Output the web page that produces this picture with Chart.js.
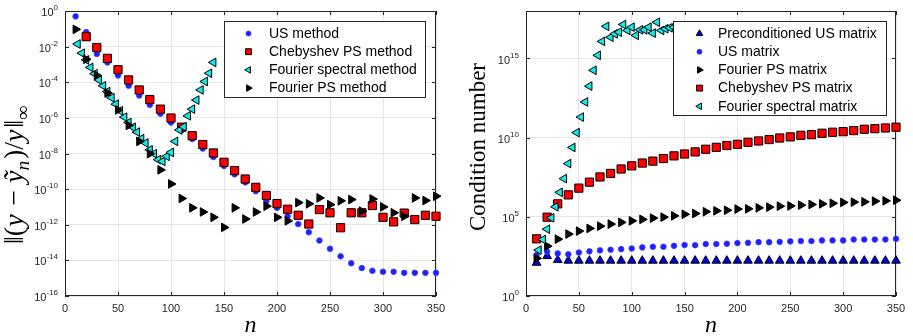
<!DOCTYPE html>
<html>
<head>
<meta charset="utf-8">
<script src="https://cdn.jsdelivr.net/npm/chart.js@4.4.1/dist/chart.umd.min.js"></script>
<style>
  html, body { margin: 0; padding: 0; background: #ffffff; }
  #wrap { position: relative; width: 913px; height: 336px; overflow: hidden; }
  canvas { position: absolute; top: 0; }
  #errChart { left: 0; }
  #condChart { left: 456px; }
</style>
</head>
<body>
<div id="wrap">
  <canvas id="errChart" width="456" height="336" style="width:456px;height:336px"></canvas>
  <canvas id="condChart" width="457" height="336" style="width:457px;height:336px"></canvas>
</div>
<script>
// ---------- data ----------
const nValues = [10, 20, 30, 40, 50, 60, 70, 80, 90, 100, 110, 120, 130, 140, 150, 160, 170, 180,
                 190, 200, 210, 220, 230, 240, 250, 260, 270, 280, 290, 300, 310, 320, 330, 340, 350];
const nFourierSpectral = [12, 16, 20, 24, 28, 32, 36, 40, 44, 48, 52, 56, 60, 64, 68, 72, 76, 80,
                          84, 88, 92, 96, 100, 104, 108, 112, 116, 120, 124, 128, 132, 136, 140];

// relative error (left panel)
const errUSMethod = [5.0e-1, 6.5e-2, 3.9e-3, 1.3e-3, 2.4e-4, 6.3e-5, 1.8e-5, 5.4e-6, 1.7e-6, 5.5e-7,
  2.0e-7, 6.5e-8, 1.9e-8, 6.3e-9, 2.0e-9, 6.8e-10, 2.4e-10, 7.6e-11, 2.1e-11, 8.9e-12,
  3.0e-12, 1.1e-12, 3.8e-13, 1.3e-13, 4.5e-14, 1.7e-14, 6.9e-15, 3.7e-15, 2.6e-15, 2.3e-15,
  2.3e-15, 2.0e-15, 2.0e-15, 2.0e-15, 2.0e-15];
const errChebyshevPS = [null, 3.6e-2, 8.9e-3, 2.2e-3, 5.1e-4, 1.35e-4, 3.7e-5, 1.07e-5, 3.1e-6, 9.8e-7,
  3.0e-7, 1.0e-7, 3.2e-8, 1.07e-8, 3.2e-9, 1.1e-9, 3.7e-10, 1.26e-10, 4.4e-11, 1.55e-11,
  7.4e-12, 3.4e-12, 1.1e-12, 7.1e-12, 4.7e-12, 6.8e-13, 4.7e-12, 4.7e-12, 1.2e-11, 2.6e-12,
  1.45e-12, 4.5e-12, 1.95e-12, 3.4e-12, 3.0e-12];
const errFourierSpectral = [1.4e-2, 4.3e-3, 1.8e-3, 6.8e-4, 3.0e-4, 1.35e-4, 6.3e-5, 3.0e-5, 1.35e-5,
  5.9e-6, 2.5e-6, 1.1e-6, 5.5e-7, 3.0e-7, 1.6e-7, 6.8e-8, 3.9e-8, 1.6e-8, 9.8e-9, 4.5e-9,
  3.6e-9, 6.9e-9, 1.15e-8, 4.8e-8, 2.1e-7, 3.2e-7, 1.3e-6, 3.1e-6, 1.0e-5, 3.7e-5,
  1.1e-4, 3.2e-4, 1.3e-3];
const errFourierPS = [9.3e-2, 1.95e-3, 2.4e-4, 2.5e-5, 2.8e-6, 3.8e-7, 4.8e-8, 9.8e-9, 1.2e-9, 1.95e-10,
  3.0e-11, 8.9e-12, 5.2e-12, 2.6e-12, 7.1e-13, 8.9e-12, 2.1e-12, 5.2e-12, 1.1e-11, 2.6e-12,
  1.65e-12, 1.75e-11, 1.5e-11, 3.2e-11, 1.35e-11, 2.2e-11, 2.6e-11, 5.8e-12, 2.8e-11, 1.0e-11,
  4.7e-12, 3.0e-12, 3.2e-11, 2.3e-11, 4.0e-11];

// condition numbers (right panel)
const condPrecondUS = [126, 330, 186, 170, 170, 170, 170, 170, 170, 170, 170, 170, 170, 170, 170, 170,
  170, 170, 170, 170, 170, 170, 170, 170, 170, 170, 170, 170, 170, 170, 170, 170, 170, 170, 170];
const condUS = [390, 620, 490, 430, 560, 660, 760, 830, 910, 1000, 1170, 1290, 1290, 1480, 1660, 1620,
  1900, 1900, 2000, 2190, 2290, 2510, 2510, 2630, 2820, 2950, 2950, 3240, 3240, 3240, 3720, 3720,
  3720, 3720, 4070];
const condFourierPS = [240, 1410, 3890, 8130, 1.26e4, 1.86e4, 2.57e4, 3.47e4, 4.47e4, 5.6e4, 6.9e4, 8.3e4,
  9.5e4, 1.15e5, 1.45e5, 1.62e5, 2.1e5, 2.4e5, 2.6e5, 3.1e5, 3.2e5, 3.7e5, 4.1e5, 4.7e5, 4.9e5,
  5.5e5, 6.0e5, 6.6e5, 7.2e5, 8.1e5, 8.5e5, 8.9e5, 9.8e5, 1.02e6, 1.12e6];
const condChebyshevPS = [4070, 9.5e4, 6.6e5, 2.45e6, 6.5e6, 1.55e7, 3.3e7, 5.5e7, 1.05e8, 1.66e8, 2.5e8,
  3.3e8, 4.8e8, 7.1e8, 9.3e8, 1.26e9, 1.86e9, 2.45e9, 3.2e9, 3.8e9, 5.1e9, 6.2e9, 7.6e9, 9.5e9,
  1.12e10, 1.41e10, 1.55e10, 1.9e10, 2.2e10, 2.4e10, 2.8e10, 3.4e10, 3.7e10, 4.1e10, 4.6e10];
const condFourierSpectral = [7.9e2, 3.7e3, 1.66e4, 8.7e4, 4.3e5, 3.5e6, 2.6e7, 2.3e8, 2.4e9, 2.1e10,
  2.0e11, 1.8e12, 1.8e13, 1.8e14, 1.6e15, 1.2e16, 1.07e17, 2.2e16, 3.6e16, 4.6e16, 1.4e17, 5.9e16,
  9.5e16, 2.9e16, 6.5e16, 6.5e16, 9.5e16, 4.0e16, 1.95e17, 5.9e16, 7.6e16, 8.7e16, 9.5e16];

// axis ticks
const xTicks = [0, 50, 100, 150, 200, 250, 300, 350];
const errTickExponents = [-16, -14, -12, -10, -8, -6, -4, -2, 0];
const condTickExponents = [0, 5, 10, 15];

// ---------- styling helpers ----------
const SANS = '"Liberation Sans", Arial, Helvetica, sans-serif';
const SERIF = '"Liberation Serif", "Times New Roman", "DejaVu Serif", serif';
const INK = '#262626';
const GRID = '#e5e5e5';

const STYLES = {
  usDot:      { pointStyle: 'circle',   rotation: 0,   radius: 2.8, fill: '#1f1fff', stroke: '#3a3aff', lw: 0.8 },
  chebSquare: { pointStyle: 'rect',     rotation: 0,   radius: 5.8, fill: '#ff0000', stroke: '#000000', lw: 1 },
  fsLeft:     { pointStyle: 'triangle', rotation: 270, radius: 5.0, fill: '#10eaea', stroke: '#000000', lw: 1 },
  fpsRight:   { pointStyle: 'triangle', rotation: 90,  radius: 5.0, fill: '#000000', stroke: '#000000', lw: 1 },
  precondUp:  { pointStyle: 'triangle', rotation: 0,   radius: 5.0, fill: '#0000e0', stroke: '#000000', lw: 1 }
};

function toPoints(xs, ys) {
  const pts = [];
  xs.forEach((x, i) => { if (ys[i] !== null && ys[i] !== undefined) pts.push({ x: x, y: ys[i] }); });
  return pts;
}

function makeDataset(label, xs, ys, st, order) {
  return {
    label: label,
    data: toPoints(xs, ys),
    showLine: false,
    clip: false,
    order: order,
    pointStyle: st.pointStyle,
    rotation: st.rotation,
    pointRadius: st.radius,
    pointHoverRadius: st.radius,
    pointBackgroundColor: st.fill,
    pointBorderColor: st.stroke,
    pointBorderWidth: st.lw
  };
}

// small marker used in the legend boxes
function legendMarker(ctx, st, x, y, scale) {
  const r = st.radius * scale;
  ctx.save();
  ctx.fillStyle = st.fill;
  ctx.strokeStyle = st.stroke;
  ctx.lineWidth = st.lw;
  ctx.beginPath();
  if (st.pointStyle === 'circle') {
    ctx.arc(x, y, r, 0, Math.PI * 2);
  } else if (st.pointStyle === 'rect') {
    const h = r * Math.SQRT1_2;
    ctx.rect(x - h, y - h, 2 * h, 2 * h);
  } else {
    let a = st.rotation * Math.PI / 180;
    ctx.moveTo(x + Math.sin(a) * r, y - Math.cos(a) * r);
    a += 2 * Math.PI / 3;
    ctx.lineTo(x + Math.sin(a) * r, y - Math.cos(a) * r);
    a += 2 * Math.PI / 3;
    ctx.lineTo(x + Math.sin(a) * r, y - Math.cos(a) * r);
    ctx.closePath();
  }
  ctx.fill();
  ctx.stroke();
  ctx.restore();
}

// rotated axis title made of styled pieces (upright / italic / sub-scripted)
function drawRotatedPieces(ctx, baseX, centerY, pieces, size) {
  ctx.save();
  ctx.translate(baseX, centerY);
  ctx.rotate(-Math.PI / 2);
  ctx.fillStyle = '#000000';
  ctx.textBaseline = 'alphabetic';
  ctx.textAlign = 'left';
  const fontOf = p => (p.it ? 'italic ' : '') + (size * (p.s || 1)).toFixed(1) + 'px ' + SERIF;
  const widths = pieces.map(p => { ctx.font = fontOf(p); return ctx.measureText(p.t).width + (p.gap || 0) * size; });
  const total = widths.reduce((a, b) => a + b, 0);
  let x = -total / 2;
  pieces.forEach((p, i) => {
    ctx.font = fontOf(p);
    ctx.fillText(p.t, x, (p.dy || 0) * size);
    x += widths[i];
  });
  ctx.restore();
}

// frame, inward ticks, tick labels, axis titles and legend for one panel
function panelPlugin(cfg) {
  return {
    id: 'panel_' + cfg.name,
    beforeDatasetsDraw(chart) {
      const ctx = chart.ctx;
      const a = chart.chartArea;
      const xs = chart.scales.x, ys = chart.scales.y;
      ctx.save();
      ctx.strokeStyle = INK;
      ctx.lineWidth = 1;
      ctx.strokeRect(Math.round(a.left) + 0.5, Math.round(a.top) + 0.5,
                     Math.round(a.right - a.left) - 1, Math.round(a.bottom - a.top) - 1);
      ctx.beginPath();
      xTicks.forEach(v => {
        const px = Math.round(xs.getPixelForValue(v)) + 0.5;
        ctx.moveTo(px, a.bottom); ctx.lineTo(px, a.bottom - 4);
        ctx.moveTo(px, a.top); ctx.lineTo(px, a.top + 4);
      });
      cfg.yExps.forEach(e => {
        const py = Math.round(ys.getPixelForValue(Math.pow(10, e))) + 0.5;
        ctx.moveTo(a.left, py); ctx.lineTo(a.left + 4, py);
        ctx.moveTo(a.right, py); ctx.lineTo(a.right - 4, py);
      });
      ctx.stroke();

      // x tick labels
      ctx.fillStyle = INK;
      ctx.font = '11px ' + SANS;
      ctx.textAlign = 'center';
      ctx.textBaseline = 'middle';
      xTicks.forEach(v => ctx.fillText(String(v), xs.getPixelForValue(v), a.bottom + 12.5));

      // y tick labels: 10 with a raised exponent
      cfg.yExps.forEach(e => {
        const py = ys.getPixelForValue(Math.pow(10, e));
        const sup = e < 0 ? '-' + String(-e) : String(e);
        ctx.font = '8px ' + SANS;
        const wSup = ctx.measureText(sup).width;
        ctx.font = '11px ' + SANS;
        const wTen = ctx.measureText('10').width;
        const right = a.left - 7;
        ctx.textAlign = 'left';
        ctx.textBaseline = 'alphabetic';
        ctx.fillText('10', right - wSup - wTen, py + 5);
        ctx.font = '8px ' + SANS;
        ctx.fillText(sup, right - wSup, py - 1);
      });

      // x title
      ctx.fillStyle = '#000000';
      ctx.font = 'italic 24px ' + SERIF;
      ctx.textAlign = 'center';
      ctx.textBaseline = 'alphabetic';
      ctx.fillText('n', (a.left + a.right) / 2, 332);
      ctx.restore();

      cfg.drawYTitle(ctx, chart);
    },
    afterDraw(chart) {
      const ctx = chart.ctx;
      const L = cfg.legend;
      ctx.save();
      ctx.fillStyle = '#ffffff';
      ctx.fillRect(L.x, L.y, L.w, L.h);
      ctx.strokeStyle = INK;
      ctx.lineWidth = 1;
      ctx.strokeRect(L.x + 0.5, L.y + 0.5, L.w - 1, L.h - 1);
      ctx.font = '14px ' + SANS;
      ctx.fillStyle = '#000000';
      ctx.textAlign = 'left';
      ctx.textBaseline = 'middle';
      L.items.forEach((it, i) => {
        const cy = L.firstY + i * L.step;
        legendMarker(ctx, it.style, L.markerX, cy, it.scale);
        ctx.fillText(it.label, L.textX, cy + 0.5);
      });
      ctx.restore();
    }
  };
}

function baseOptions(yMin, yMax, yExps, rightPad) {
  return {
    responsive: false,
    animation: false,
    events: [],
    devicePixelRatio: 1,
    layout: { padding: { left: 0, right: rightPad, top: 11, bottom: 0 } },
    plugins: { legend: { display: false }, tooltip: { enabled: false } },
    scales: {
      x: {
        type: 'linear', min: 0, max: 350,
        afterBuildTicks: s => { s.ticks = xTicks.map(v => ({ value: v })); },
        ticks: { display: false },
        grid: { color: GRID, drawTicks: false, lineWidth: 1 },
        border: { display: false },
        afterFit: s => { s.height = 40; }
      },
      y: {
        type: 'logarithmic', min: yMin, max: yMax,
        afterBuildTicks: s => { s.ticks = yExps.map(e => ({ value: Math.pow(10, e) })); },
        ticks: { display: false },
        grid: { color: GRID, drawTicks: false, lineWidth: 1 },
        border: { display: false },
        afterFit: s => { s.width = s.chart.canvas.id === 'errChart' ? 65 : 70; }
      }
    }
  };
}

// ---------- left panel: error ----------
new Chart(document.getElementById('errChart'), {
  type: 'scatter',
  data: {
    datasets: [
      makeDataset('US method', nValues, errUSMethod, STYLES.usDot, 4),
      makeDataset('Chebyshev PS method', nValues, errChebyshevPS, STYLES.chebSquare, 3),
      makeDataset('Fourier spectral method', nFourierSpectral, errFourierSpectral, STYLES.fsLeft, 2),
      makeDataset('Fourier PS method', nValues, errFourierPS, STYLES.fpsRight, 1)
    ]
  },
  options: baseOptions(1e-16, 1, errTickExponents, 20),
  plugins: [panelPlugin({
    name: 'err',
    yExps: errTickExponents,
    drawYTitle: (ctx, chart) => {
      drawRotatedPieces(ctx, 23, 175, [
        { t: '\u2016(' },
        { t: 'y', it: true, gap: 0.06 },
        { t: ' \u2212 ' },
        { t: '\u1EF9', it: true },
        { t: 'n', it: true, s: 0.7, dy: 0.2, gap: 0.06 },
        { t: ')/' },
        { t: 'y', it: true, gap: 0.06 },
        { t: '\u2016' },
        { t: '\u221E', s: 0.7, dy: 0.22 }
      ], 28);
    },
    legend: {
      x: 224, y: 21, w: 202, h: 77, markerX: 248.5, textX: 269, firstY: 33.5, step: 18.2,
      items: [
        { label: 'US method', style: STYLES.usDot, scale: 0.9 },
        { label: 'Chebyshev PS method', style: STYLES.chebSquare, scale: 0.72 },
        { label: 'Fourier spectral method', style: STYLES.fsLeft, scale: 0.75 },
        { label: 'Fourier PS method', style: STYLES.fpsRight, scale: 0.75 }
      ]
    }
  })]
});

// ---------- right panel: condition number ----------
new Chart(document.getElementById('condChart'), {
  type: 'scatter',
  data: {
    datasets: [
      makeDataset('Preconditioned US matrix', nValues, condPrecondUS, STYLES.precondUp, 5),
      makeDataset('US matrix', nValues, condUS, STYLES.usDot, 4),
      makeDataset('Fourier PS matrix', nValues, condFourierPS, STYLES.fpsRight, 3),
      makeDataset('Chebyshev PS matrix', nValues, condChebyshevPS, STYLES.chebSquare, 2),
      makeDataset('Fourier spectral matrix', nFourierSpectral, condFourierSpectral, STYLES.fsLeft, 1)
    ]
  },
  options: baseOptions(1, 1e18, condTickExponents, 17),
  plugins: [panelPlugin({
    name: 'cond',
    yExps: condTickExponents,
    drawYTitle: (ctx, chart) => {
      drawRotatedPieces(ctx, 29, 147, [{ t: 'Condition number' }], 23);
    },
    legend: {
      x: 217, y: 21, w: 214, h: 95, markerX: 243.5, textX: 262, firstY: 33.5, step: 18.2,
      items: [
        { label: 'Preconditioned US matrix', style: STYLES.precondUp, scale: 0.75 },
        { label: 'US matrix', style: STYLES.usDot, scale: 0.9 },
        { label: 'Fourier PS matrix', style: STYLES.fpsRight, scale: 0.75 },
        { label: 'Chebyshev PS matrix', style: STYLES.chebSquare, scale: 0.72 },
        { label: 'Fourier spectral matrix', style: STYLES.fsLeft, scale: 0.75 }
      ]
    }
  })]
});
</script>
</body>
</html>
